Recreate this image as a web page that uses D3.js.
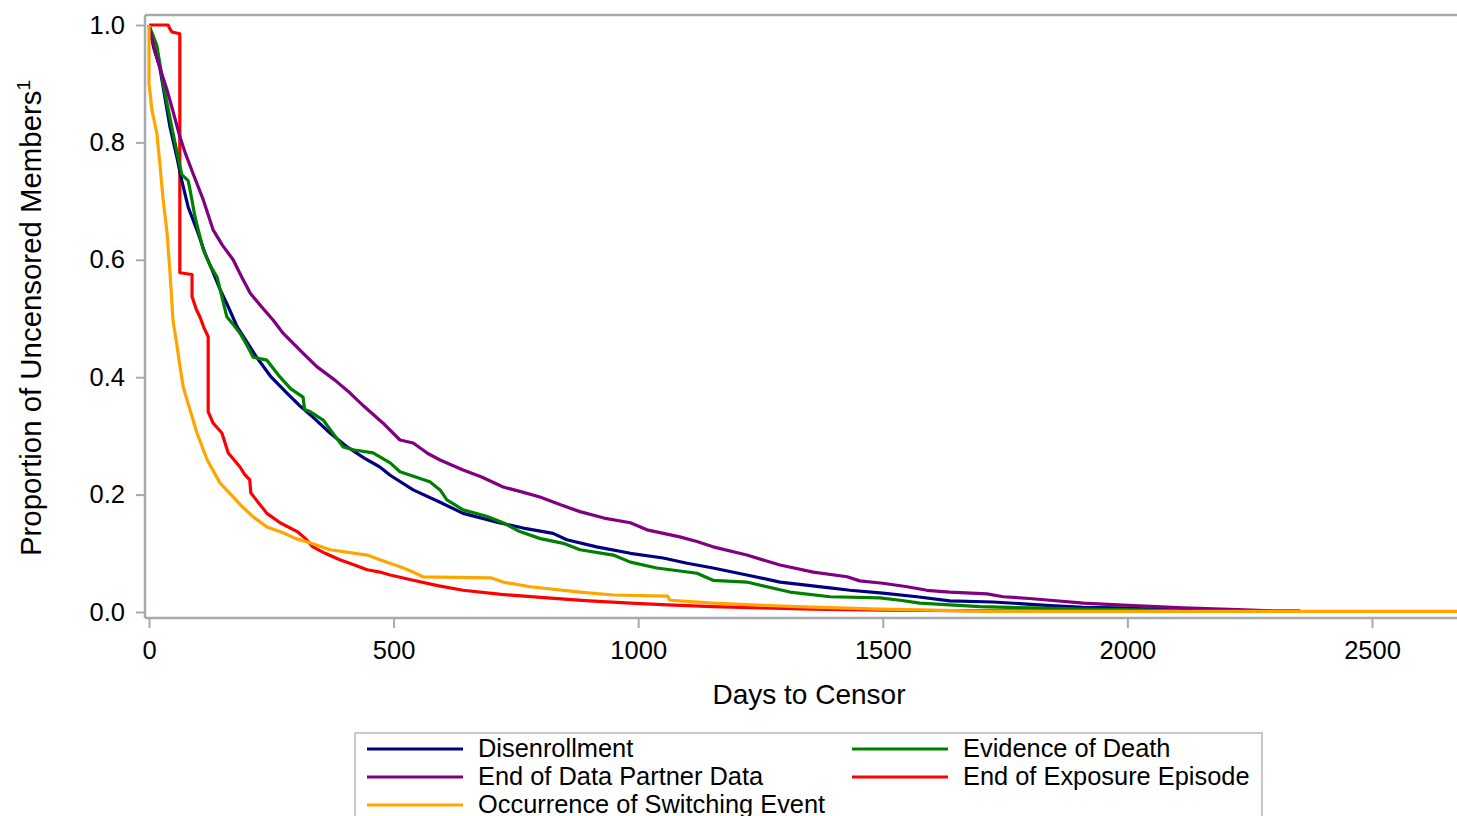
<!DOCTYPE html>
<html><head><meta charset="utf-8">
<script src="https://cdn.jsdelivr.net/npm/d3@7"></script>
<style>body{margin:0;background:#fff}svg{display:block}text{font-family:"Liberation Sans",Arial,sans-serif;fill:#000}</style>
</head><body><svg id="c" width="1457" height="816"></svg>
<script>
const seriesNames = ["Disenrollment","Evidence of Death","End of Data Partner Data","End of Exposure Episode","Occurrence of Switching Event"];
const seriesColors = ["#000080","#008000","#800080","#ff0000","#ffa500"];
const xTicks = [0,500,1000,1500,2000,2500];
const yTicks = [0,0.2,0.4,0.6,0.8,1.0];

const disenrollment = [[0,1],[10,0.96],[22,0.928],[43,0.826],[57,0.775],[67,0.735],[80,0.69],[100,0.646],[115,0.61],[129,0.583],[145,0.55],[162,0.52],[180,0.486],[200,0.46],[220,0.434],[250,0.40],[282,0.373],[310,0.35],[335,0.332],[370,0.305],[404,0.282],[440,0.262],[472,0.247],[493,0.233],[540,0.208],[595,0.187],[642,0.168],[680,0.16],[711,0.153],[765,0.143],[826,0.134],[854,0.123],[915,0.111],[984,0.1],[1051,0.092],[1100,0.083],[1153,0.075],[1222,0.063],[1290,0.051],[1392,0.041],[1433,0.037],[1500,0.032],[1570,0.026],[1637,0.019],[1725,0.017],[1787,0.014],[1842,0.011],[1910,0.008],[1978,0.007],[2081,0.004],[2190,0.002]];
const evidenceOfDeath = [[0,1],[16,0.965],[29,0.9],[49,0.816],[67,0.745],[80,0.735],[84,0.719],[94,0.673],[111,0.617],[125,0.59],[139,0.571],[159,0.503],[172,0.49],[186,0.475],[200,0.455],[213,0.434],[241,0.429],[268,0.4],[290,0.38],[315,0.366],[318,0.345],[330,0.341],[356,0.327],[380,0.30],[397,0.281],[420,0.276],[458,0.271],[493,0.254],[513,0.239],[574,0.222],[595,0.208],[609,0.191],[642,0.174],[690,0.163],[724,0.152],[758,0.137],[800,0.125],[847,0.117],[881,0.106],[949,0.097],[984,0.085],[1038,0.075],[1120,0.066],[1153,0.054],[1222,0.051],[1310,0.034],[1392,0.026],[1494,0.024],[1535,0.02],[1576,0.015],[1637,0.012],[1699,0.009],[1801,0.007],[1910,0.005],[1991,0.004],[2108,0.002]];
const endOfDataPartner = [[0,1],[12,0.957],[25,0.92],[37,0.889],[50,0.85],[63,0.81],[75,0.78],[90,0.747],[111,0.702],[131,0.651],[150,0.625],[172,0.6],[190,0.57],[207,0.543],[230,0.52],[254,0.497],[274,0.475],[310,0.445],[343,0.418],[380,0.395],[411,0.373],[440,0.35],[478,0.322],[513,0.293],[540,0.288],[570,0.27],[595,0.259],[642,0.242],[680,0.23],[724,0.213],[760,0.205],[799,0.196],[840,0.183],[881,0.171],[930,0.16],[984,0.152],[1018,0.14],[1085,0.128],[1120,0.12],[1153,0.111],[1222,0.097],[1290,0.08],[1358,0.068],[1427,0.06],[1453,0.053],[1500,0.049],[1550,0.043],[1590,0.037],[1637,0.034],[1713,0.031],[1746,0.026],[1800,0.023],[1842,0.02],[1910,0.015],[1960,0.013],[2012,0.011],[2060,0.009],[2114,0.007],[2224,0.004],[2300,0.002],[2353,0.002]];
const endOfExposure = [[0,1],[39,1],[43,0.993],[47,0.988],[63,0.985],[63,0.578],[88,0.575],[88,0.537],[97,0.515],[104,0.503],[112,0.485],[121,0.469],[121,0.341],[131,0.322],[149,0.305],[162,0.271],[175,0.258],[186,0.247],[195,0.235],[206,0.225],[208,0.203],[225,0.185],[241,0.168],[268,0.152],[303,0.137],[320,0.125],[335,0.111],[360,0.1],[390,0.089],[420,0.08],[446,0.072],[472,0.068],[493,0.063],[540,0.054],[590,0.045],[642,0.037],[720,0.03],[814,0.024],[900,0.019],[984,0.015],[1060,0.012],[1153,0.009],[1250,0.007],[1358,0.005],[1500,0.003],[1750,0.002],[2070,0.001]];
const switchingEvent = [[0,1],[0,0.9],[6,0.855],[16,0.816],[22,0.765],[29,0.702],[37,0.645],[43,0.577],[49,0.497],[57,0.455],[63,0.42],[70,0.383],[84,0.344],[98,0.305],[119,0.259],[145,0.22],[172,0.196],[190,0.18],[213,0.162],[241,0.145],[274,0.135],[300,0.125],[329,0.118],[370,0.106],[446,0.097],[472,0.089],[513,0.077],[540,0.068],[560,0.06],[700,0.058],[724,0.051],[779,0.043],[881,0.034],[949,0.029],[1060,0.027],[1065,0.02],[1153,0.015],[1324,0.009],[1494,0.005],[1720,0.001],[2680,0.001]];

const seriesData = [disenrollment, evidenceOfDeath, endOfDataPartner, endOfExposure, switchingEvent];
const drawOrder = [3,0,1,2,4];

const svg = d3.select("#c");
const W = 1457, H = 816;
const plotL = 145, plotT = 15, plotB = 618;
const pxPerDay = 244.6/500;
const x = d3.scaleLinear().domain([0, 2500]).range([149, 149 + 2500*pxPerDay]);
const y = d3.scaleLinear().domain([0, 1]).range([612, 25]);
const axisColor = "#a6aaae";
const FONT = "Liberation Sans, Arial, sans-serif";

svg.append("defs").append("clipPath").attr("id","pc")
  .append("rect").attr("x",plotL).attr("y",plotT).attr("width",W-plotL).attr("height",plotB-plotT);

svg.append("line").attr("x1",plotL).attr("x2",W).attr("y1",plotT).attr("y2",plotT).attr("stroke",axisColor).attr("stroke-width",2.5);

const gy = svg.append("g").attr("transform",`translate(${plotL},0)`)
  .call(d3.axisLeft(y).tickValues(yTicks).tickFormat(d3.format(".1f")).tickSize(9).tickPadding(11));
gy.select(".domain").attr("d",`M0,${plotT}V${plotB}`).attr("stroke",axisColor).attr("stroke-width",2.5);
gy.selectAll(".tick line").attr("stroke",axisColor).attr("stroke-width",2);
gy.selectAll(".tick text").attr("font-size",25.5).attr("font-family",FONT).attr("fill","#000");

const gx = svg.append("g").attr("transform",`translate(0,${plotB})`)
  .call(d3.axisBottom(x).tickValues(xTicks).tickFormat(d3.format("d")).tickSize(10).tickPadding(13));
gx.select(".domain").attr("d",`M${plotL},0H${W}`).attr("stroke",axisColor).attr("stroke-width",2.5);
gx.selectAll(".tick line").attr("stroke",axisColor).attr("stroke-width",2);
gx.selectAll(".tick text").attr("font-size",25.5).attr("font-family",FONT).attr("fill","#000");

svg.append("text").attr("x",809).attr("y",704).attr("text-anchor","middle").attr("font-size",28).text("Days to Censor");
const yl = svg.append("text").attr("transform","translate(41,318) rotate(-90)").attr("text-anchor","middle").attr("font-size",29.4);
yl.append("tspan").text("Proportion of Uncensored Members");
yl.append("tspan").attr("dy",-11).attr("font-size",19).text("1");

const line = d3.line().x(d=>x(d[0])).y(d=>y(d[1])).curve(d3.curveLinear);
const gc = svg.append("g").attr("clip-path","url(#pc)");
drawOrder.forEach(i=>{
  gc.append("path").datum(seriesData[i]).attr("d",line).attr("fill","none")
    .attr("stroke",seriesColors[i]).attr("stroke-width",3.2).attr("stroke-linejoin","round");
});

const lg = svg.append("g");
lg.append("rect").attr("x",355).attr("y",733).attr("width",907).attr("height",100).attr("fill","#fff").attr("stroke","#c8c8c8").attr("stroke-width",2);
const legendPos = [[367,749],[852,749],[367,777],[852,777],[367,805]];
seriesNames.forEach((n,i)=>{
  const [lx,ly] = legendPos[i];
  lg.append("line").attr("x1",lx).attr("x2",lx+96).attr("y1",ly).attr("y2",ly).attr("stroke",seriesColors[i]).attr("stroke-width",3);
  lg.append("text").attr("x",lx+111).attr("y",ly+8).attr("font-size",25.4).text(n);
});
</script></body></html>
